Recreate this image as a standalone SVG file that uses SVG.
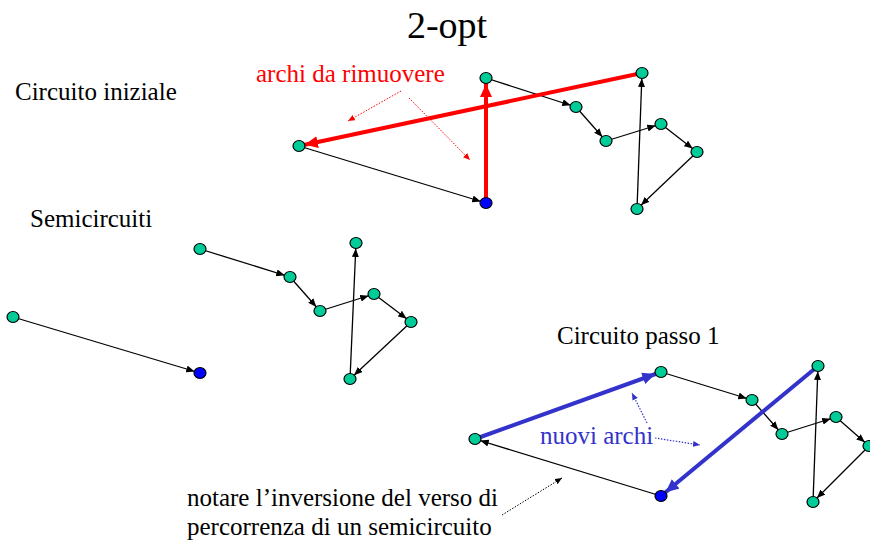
<svg xmlns="http://www.w3.org/2000/svg" width="870" height="542" viewBox="0 0 870 542">
<style>
text{font-family:'Liberation Serif','Times New Roman',Times,'DejaVu Serif',serif;}
.t{font-size:25px;fill:#000;}
.n{fill:#00cc99;stroke:#000;stroke-width:1.2;}
.nb{fill:#0000ff;stroke:#000;stroke-width:1.2;}
.e{stroke:#000;stroke-width:1.3;fill:none;marker-end:url(#ab);}
.er{stroke:#ff0000;stroke-width:4;fill:none;marker-end:url(#ar);}
.eb{stroke:#3333cc;stroke-width:4;fill:none;marker-end:url(#abl);}
.dr{stroke:#ff0000;stroke-width:1;stroke-dasharray:1.5 1.5;fill:none;marker-end:url(#adr);}
.db{stroke:#3333cc;stroke-width:1.2;stroke-dasharray:1.5 1.5;fill:none;marker-end:url(#adb);}
.dk{stroke:#000;stroke-width:1;stroke-dasharray:1.5 1.5;fill:none;marker-end:url(#adk);}
</style>
<defs>
<marker id="ab" markerUnits="userSpaceOnUse" viewBox="0 0 15 7" markerWidth="15" markerHeight="7" refX="14" refY="3.5" orient="auto"><path d="M0,0 L8.5,3.5 L0,7 z" fill="#000"/></marker>
<marker id="ar" markerUnits="userSpaceOnUse" viewBox="0 0 20 12" markerWidth="20" markerHeight="12" refX="19" refY="6" orient="auto"><path d="M0,0 L13,6 L0,12 z" fill="#ff0000"/></marker>
<marker id="abl" markerUnits="userSpaceOnUse" viewBox="0 0 20 12" markerWidth="20" markerHeight="12" refX="19" refY="6" orient="auto"><path d="M0,0 L13,6 L0,12 z" fill="#3333cc"/></marker>
<marker id="adr" markerUnits="userSpaceOnUse" viewBox="0 0 8 6" markerWidth="8" markerHeight="6" refX="7" refY="3" orient="auto"><path d="M0,0 L7,3 L0,6 z" fill="#ff0000"/></marker>
<marker id="adb" markerUnits="userSpaceOnUse" viewBox="0 0 8 6" markerWidth="8" markerHeight="6" refX="7" refY="3" orient="auto"><path d="M0,0 L7,3 L0,6 z" fill="#3333cc"/></marker>
<marker id="adk" markerUnits="userSpaceOnUse" viewBox="0 0 8 6" markerWidth="8" markerHeight="6" refX="7" refY="3" orient="auto"><path d="M0,0 L7,3 L0,6 z" fill="#000"/></marker>
</defs>
<rect width="870" height="542" fill="#fff"/>
<g id="labels" font-family="'Liberation Serif','Times New Roman',Times,'DejaVu Serif',serif">
<text x="447" y="38" font-size="38" text-anchor="middle">2-opt</text>
<text class="t" x="15" y="100">Circuito iniziale</text>
<text class="t" x="30" y="227">Semicircuiti</text>
<text class="t" x="557" y="344">Circuito passo 1</text>
<text x="256" y="82" font-size="25" fill="#ff0000">archi da rimuovere</text>
<text x="540" y="444" font-size="25" fill="#3333cc">nuovi archi</text>
<text class="t" x="187" y="506">notare l’inversione del verso di</text>
<text class="t" x="187" y="535">percorrenza di un semicircuito</text>
</g>
<g id="connectors">
<line class="e" x1="299" y1="146" x2="486" y2="203"/>
<line class="e" x1="486" y1="78" x2="576" y2="107"/>
<line class="e" x1="576" y1="107" x2="606" y2="141"/>
<line class="e" x1="606" y1="141" x2="661" y2="124"/>
<line class="e" x1="661" y1="124" x2="697" y2="152"/>
<line class="e" x1="697" y1="152" x2="637" y2="209"/>
<line class="e" x1="637" y1="209" x2="642" y2="73"/>
<line class="er" x1="486" y1="203" x2="486" y2="78"/>
<line class="er" x1="642" y1="73" x2="299" y2="146"/>
<line class="dr" x1="401" y1="91" x2="348" y2="121"/>
<line class="dr" x1="409" y1="98" x2="470" y2="160"/>
<line class="e" x1="13" y1="317" x2="200" y2="373"/>
<line class="e" x1="200" y1="249" x2="290" y2="277"/>
<line class="e" x1="290" y1="277" x2="320" y2="311"/>
<line class="e" x1="320" y1="311" x2="374" y2="294"/>
<line class="e" x1="374" y1="294" x2="411" y2="322"/>
<line class="e" x1="411" y1="322" x2="350" y2="379"/>
<line class="e" x1="350" y1="379" x2="356" y2="243"/>
<line class="e" x1="661" y1="496" x2="475" y2="439"/>
<line class="e" x1="661" y1="372" x2="752" y2="400"/>
<line class="e" x1="752" y1="400" x2="782" y2="434"/>
<line class="e" x1="782" y1="434" x2="836" y2="417"/>
<line class="e" x1="836" y1="417" x2="869" y2="446"/>
<line class="e" x1="869" y1="446" x2="813" y2="502"/>
<line class="e" x1="813" y1="502" x2="818" y2="366"/>
<line class="eb" x1="475" y1="439" x2="661" y2="372"/>
<line class="eb" x1="818" y1="366" x2="661" y2="496"/>
<line class="db" x1="647" y1="423" x2="632" y2="393"/>
<line class="db" x1="655" y1="438" x2="700" y2="445"/>
<line class="dk" x1="502" y1="515" x2="562" y2="478"/>
</g>
<g id="node-A"><ellipse class="n" cx="299" cy="146" rx="6" ry="5.5"/></g>
<g id="node-B"><ellipse class="nb" cx="486" cy="203" rx="6" ry="5.5"/></g>
<g id="node-C"><ellipse class="n" cx="486" cy="78" rx="6" ry="5.5"/></g>
<g id="node-D"><ellipse class="n" cx="576" cy="107" rx="6" ry="5.5"/></g>
<g id="node-E"><ellipse class="n" cx="606" cy="141" rx="6" ry="5.5"/></g>
<g id="node-F"><ellipse class="n" cx="661" cy="124" rx="6" ry="5.5"/></g>
<g id="node-G"><ellipse class="n" cx="697" cy="152" rx="6" ry="5.5"/></g>
<g id="node-H"><ellipse class="n" cx="637" cy="209" rx="6" ry="5.5"/></g>
<g id="node-I"><ellipse class="n" cx="642" cy="73" rx="6" ry="5.5"/></g>
<g id="node-a"><ellipse class="n" cx="13" cy="317" rx="6" ry="5.5"/></g>
<g id="node-b"><ellipse class="nb" cx="200" cy="373" rx="6" ry="5.5"/></g>
<g id="node-c"><ellipse class="n" cx="200" cy="249" rx="6" ry="5.5"/></g>
<g id="node-d"><ellipse class="n" cx="290" cy="277" rx="6" ry="5.5"/></g>
<g id="node-e"><ellipse class="n" cx="320" cy="311" rx="6" ry="5.5"/></g>
<g id="node-f"><ellipse class="n" cx="374" cy="294" rx="6" ry="5.5"/></g>
<g id="node-g"><ellipse class="n" cx="411" cy="322" rx="6" ry="5.5"/></g>
<g id="node-h"><ellipse class="n" cx="350" cy="379" rx="6" ry="5.5"/></g>
<g id="node-i"><ellipse class="n" cx="356" cy="243" rx="6" ry="5.5"/></g>
<g id="node-P"><ellipse class="n" cx="475" cy="439" rx="6" ry="5.5"/></g>
<g id="node-Q"><ellipse class="nb" cx="661" cy="496" rx="6" ry="5.5"/></g>
<g id="node-R"><ellipse class="n" cx="661" cy="372" rx="6" ry="5.5"/></g>
<g id="node-S"><ellipse class="n" cx="752" cy="400" rx="6" ry="5.5"/></g>
<g id="node-T"><ellipse class="n" cx="782" cy="434" rx="6" ry="5.5"/></g>
<g id="node-U"><ellipse class="n" cx="836" cy="417" rx="6" ry="5.5"/></g>
<g id="node-V"><ellipse class="n" cx="869" cy="446" rx="6" ry="5.5"/></g>
<g id="node-W"><ellipse class="n" cx="813" cy="502" rx="6" ry="5.5"/></g>
<g id="node-X"><ellipse class="n" cx="818" cy="366" rx="6" ry="5.5"/></g>
</svg>
